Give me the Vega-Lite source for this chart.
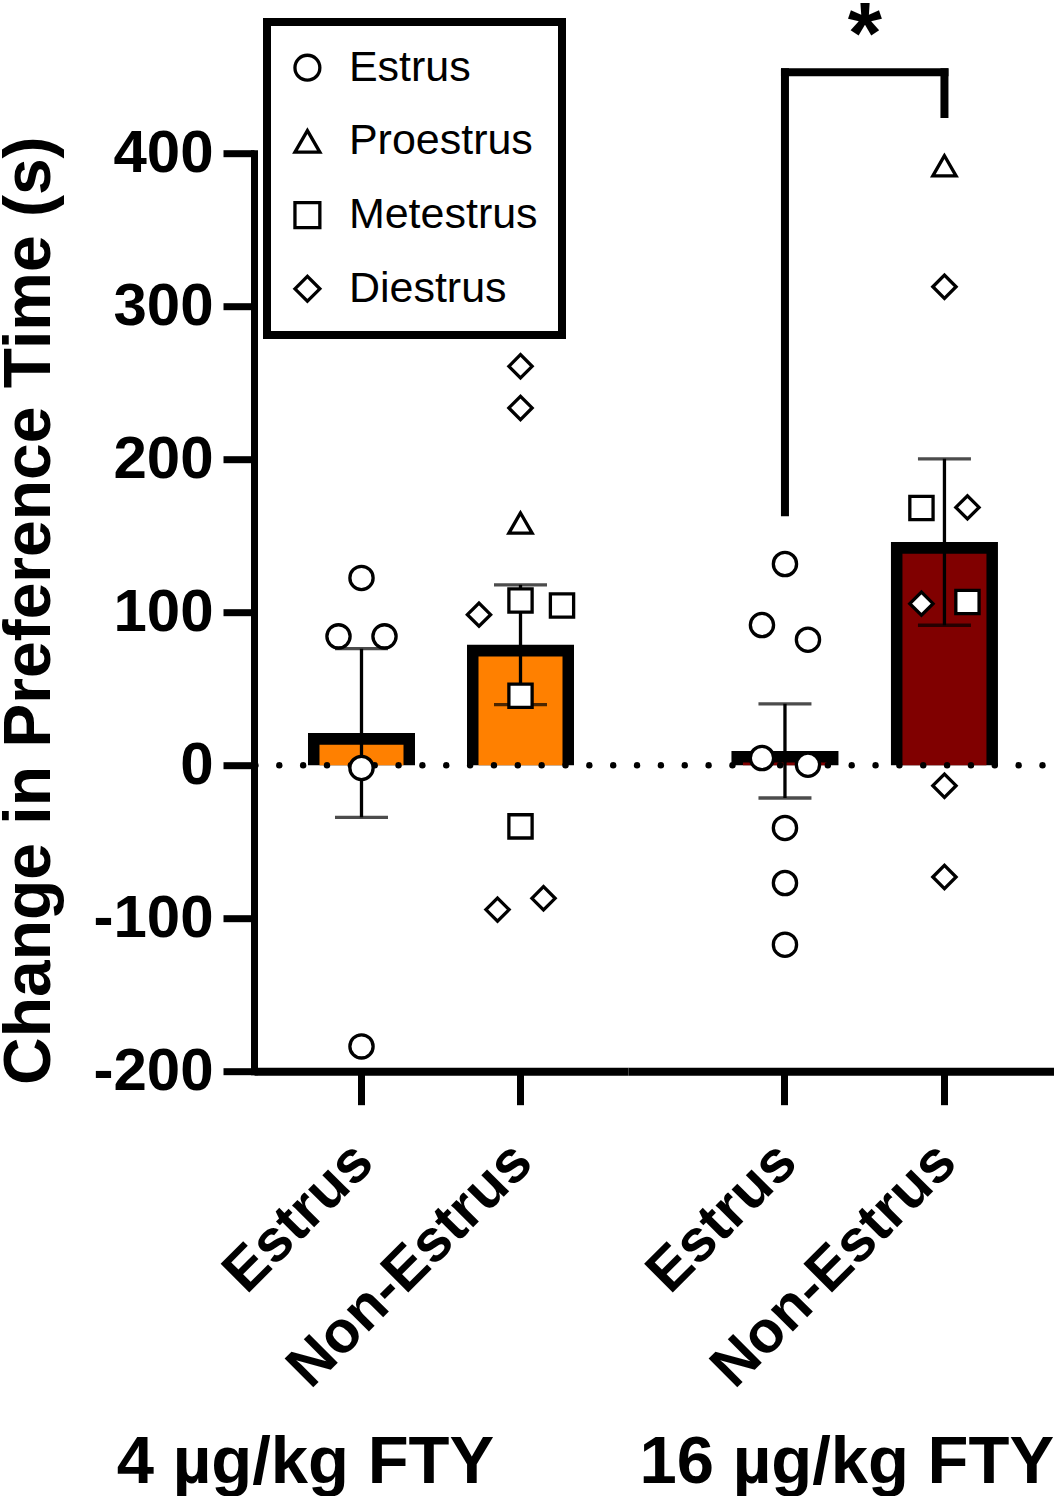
{
  "$schema": "https://vega.github.io/schema/vega-lite/v6.json",
  "background": "white",
  "padding": {"left": -4, "top": -6.8, "right": 0, "bottom": 0},
  "spacing": 0,
  "bounds": "flush",
  "datasets": {
    "fty4": [
      {"stage": "Estrus", "phase": "Estrus", "value": 122.4, "lane": "c"},
      {"stage": "Estrus", "phase": "Estrus", "value": 84.2, "lane": "l"},
      {"stage": "Estrus", "phase": "Estrus", "value": 84.2, "lane": "r"},
      {"stage": "Estrus", "phase": "Estrus", "value": -1.8, "lane": "c"},
      {"stage": "Estrus", "phase": "Estrus", "value": -183.8, "lane": "c"},
      {"stage": "Non-Estrus", "phase": "Diestrus", "value": 260.7, "lane": "c"},
      {"stage": "Non-Estrus", "phase": "Diestrus", "value": 233.5, "lane": "c"},
      {"stage": "Non-Estrus", "phase": "Proestrus", "value": 158.3, "lane": "c"},
      {"stage": "Non-Estrus", "phase": "Diestrus", "value": 98.4, "lane": "ll"},
      {"stage": "Non-Estrus", "phase": "Metestrus", "value": 107.7, "lane": "c"},
      {"stage": "Non-Estrus", "phase": "Metestrus", "value": 104.4, "lane": "rr"},
      {"stage": "Non-Estrus", "phase": "Metestrus", "value": 45.4, "lane": "c"},
      {"stage": "Non-Estrus", "phase": "Metestrus", "value": -40.0, "lane": "c"},
      {"stage": "Non-Estrus", "phase": "Diestrus", "value": -94.4, "lane": "l"},
      {"stage": "Non-Estrus", "phase": "Diestrus", "value": -87.0, "lane": "r"}
    ],
    "fty16": [
      {"stage": "Estrus", "phase": "Estrus", "value": 131.5, "lane": "c"},
      {"stage": "Estrus", "phase": "Estrus", "value": 91.6, "lane": "l"},
      {"stage": "Estrus", "phase": "Estrus", "value": 82.0, "lane": "r"},
      {"stage": "Estrus", "phase": "Estrus", "value": 4.7, "lane": "l"},
      {"stage": "Estrus", "phase": "Estrus", "value": 0.3, "lane": "r"},
      {"stage": "Estrus", "phase": "Estrus", "value": -41.0, "lane": "c"},
      {"stage": "Estrus", "phase": "Estrus", "value": -77.0, "lane": "c"},
      {"stage": "Estrus", "phase": "Estrus", "value": -117.3, "lane": "c"},
      {"stage": "Non-Estrus", "phase": "Proestrus", "value": 391.8, "lane": "c"},
      {"stage": "Non-Estrus", "phase": "Diestrus", "value": 312.7, "lane": "c"},
      {"stage": "Non-Estrus", "phase": "Metestrus", "value": 168.1, "lane": "l"},
      {"stage": "Non-Estrus", "phase": "Diestrus", "value": 168.5, "lane": "r"},
      {"stage": "Non-Estrus", "phase": "Diestrus", "value": 105.6, "lane": "l"},
      {"stage": "Non-Estrus", "phase": "Metestrus", "value": 106.7, "lane": "r"},
      {"stage": "Non-Estrus", "phase": "Diestrus", "value": -13.4, "lane": "c"},
      {"stage": "Non-Estrus", "phase": "Diestrus", "value": -73.1, "lane": "c"}
    ],
    "bracket": [
      {"from": "Estrus", "to": "Estrus", "lo": 165.4, "hi": 452.9},
      {"from": "Estrus", "to": "Non-Estrus", "lo": 452.9, "hi": 452.9},
      {"from": "Non-Estrus", "to": "Non-Estrus", "lo": 425.6, "hi": 452.9}
    ],
    "star": [
      {"stage": "Estrus", "label": "*", "pos": 458.8}
    ],
    "zero": [
      {"ref": 0}
    ]
  },
  "resolve": {
    "scale": {"x": "independent", "y": "independent", "shape": "independent"},
    "axis": {"x": "independent", "y": "independent"},
    "legend": {"shape": "independent"}
  },
  "hconcat": [
    {
      "width": 374,
      "height": 918,
      "data": {"name": "fty4"},
      "layer": [
        {
          "mark": {"type": "bar", "color": "black", "width": 107},
          "encoding": {
            "x": {"field": "stage", "type": "nominal", "title": "4 µg/kg FTY",
              "scale": {"domain": ["Estrus", "Non-Estrus"], "paddingInner": 0.3333, "paddingOuter": 0.3427, "align": 0.5},
              "axis": {"title": "4 µg/kg FTY", "titleX": 51, "titleY": 411.8, "titleBaseline": "alphabetic", "titleAlign": "center", "titleFontSize": 67, "titleAngle": 0,
                "labelAngle": -45, "labelAlign": "right", "labelBaseline": "middle", "labelPadding": 47.4, "labelOffset": 2, "labelFontSize": 59, "labelLimit": 1000,
                "tickSize": 33.5, "tickWidth": 7, "domainWidth": 8, "bandPosition": 0.5, "labelOverlap": false, "labelBound": false, "labelFlush": false}},
            "y": {"aggregate": "mean", "field": "value", "type": "quantitative", "title": "Change in Preference Time (s)",
              "scale": {"domain": [-200, 400], "nice": false, "zero": false},
              "axis": {"title": "Change in Preference Time (s)", "values": [-200, -100, 0, 100, 200, 300, 400], "labelExpr": "'' + datum.value",
                "tickSize": 31, "tickWidth": 7, "domainWidth": 7, "domainCap": "square", "labelFontSize": 60, "labelPadding": 10,
                "titleFontSize": 66, "titleX": -204.5, "titleY": 457, "titleAngle": 270, "titleBaseline": "alphabetic", "titleAlign": "center",
                "labelBound": false, "labelOverlap": false, "labelFlush": false}}
          }
        },
        {
          "mark": {"type": "bar", "color": "#FF8000", "width": 84, "yOffset": 11.7},
          "encoding": {
            "x": {"field": "stage", "type": "nominal", "title": "4 µg/kg FTY"},
            "y": {"aggregate": "mean", "field": "value", "type": "quantitative", "title": "Change in Preference Time (s)"}
          }
        },
        {
          "data": {"name": "zero"},
          "mark": {"type": "rule", "color": "black", "strokeWidth": 6.5, "strokeDash": [0, 23.85], "strokeCap": "round", "strokeDashOffset": 9.05},
          "encoding": {"y": {"field": "ref", "type": "quantitative", "title": "Change in Preference Time (s)"}}
        },
        {
          "mark": {"type": "errorbar", "extent": "stderr", "color": "black", "ticks": {"size": 53, "thickness": 3.3, "color": "black"}, "rule": {"strokeWidth": 3.3, "color": "black"}},
          "encoding": {
            "x": {"field": "stage", "type": "nominal", "title": "4 µg/kg FTY"},
            "y": {"field": "value", "type": "quantitative", "title": "Change in Preference Time (s)"}
          }
        },
        {
          "transform": [{"filter": "datum.lane == 'c'"}],
          "mark": {"type": "point", "filled": true, "fill": "white", "stroke": "black", "strokeWidth": 3.3, "size": 540, "opacity": 1},
          "encoding": {
            "x": {"field": "stage", "type": "nominal", "title": "4 µg/kg FTY"},
            "y": {"field": "value", "type": "quantitative", "title": "Change in Preference Time (s)"},
            "shape": {"field": "phase", "type": "nominal",
              "scale": {"domain": ["Estrus", "Proestrus", "Metestrus", "Diestrus"], "range": ["circle", "triangle-up", "square", "diamond"]},
              "legend": {"orient": "none", "legendX": 13, "legendY": -131.2, "title": null, "padding": 24.2,
                "strokeColor": "black",
                "labelFontSize": 43, "labelFont": "Liberation Sans", "labelFontWeight": "normal", "labelColor": "black", "labelLimit": 400,
                "symbolSize": 620, "symbolStrokeWidth": 3.3,
                "symbolOffset": -5.3, "labelOffset": 20, "rowPadding": 29.7}}
          }
        },
        {
          "transform": [{"filter": "datum.lane == 'l'"}],
          "mark": {"type": "point", "filled": true, "fill": "white", "stroke": "black", "strokeWidth": 3.3, "size": 540, "opacity": 1, "xOffset": -23},
          "encoding": {
            "x": {"field": "stage", "type": "nominal", "title": "4 µg/kg FTY"},
            "y": {"field": "value", "type": "quantitative", "title": "Change in Preference Time (s)"},
            "shape": {"field": "phase", "type": "nominal"}
          }
        },
        {
          "transform": [{"filter": "datum.lane == 'r'"}],
          "mark": {"type": "point", "filled": true, "fill": "white", "stroke": "black", "strokeWidth": 3.3, "size": 540, "opacity": 1, "xOffset": 23},
          "encoding": {
            "x": {"field": "stage", "type": "nominal", "title": "4 µg/kg FTY"},
            "y": {"field": "value", "type": "quantitative", "title": "Change in Preference Time (s)"},
            "shape": {"field": "phase", "type": "nominal"}
          }
        },
        {
          "transform": [{"filter": "datum.lane == 'll'"}],
          "mark": {"type": "point", "filled": true, "fill": "white", "stroke": "black", "strokeWidth": 3.3, "size": 540, "opacity": 1, "xOffset": -41.5},
          "encoding": {
            "x": {"field": "stage", "type": "nominal", "title": "4 µg/kg FTY"},
            "y": {"field": "value", "type": "quantitative", "title": "Change in Preference Time (s)"},
            "shape": {"field": "phase", "type": "nominal"}
          }
        },
        {
          "transform": [{"filter": "datum.lane == 'rr'"}],
          "mark": {"type": "point", "filled": true, "fill": "white", "stroke": "black", "strokeWidth": 3.3, "size": 540, "opacity": 1, "xOffset": 41.5},
          "encoding": {
            "x": {"field": "stage", "type": "nominal", "title": "4 µg/kg FTY"},
            "y": {"field": "value", "type": "quantitative", "title": "Change in Preference Time (s)"},
            "shape": {"field": "phase", "type": "nominal"}
          }
        }
      ]
    },
    {
      "width": 427,
      "height": 918,
      "data": {"name": "fty16"},
      "layer": [
        {
          "mark": {"type": "bar", "color": "black", "width": 107},
          "encoding": {
            "x": {"field": "stage", "type": "nominal", "title": "16 µg/kg FTY",
              "scale": {"domain": ["Estrus", "Non-Estrus"], "paddingInner": 0.3333, "paddingOuter": 0.5053, "align": 0.644},
              "axis": {"title": "16 µg/kg FTY", "titleX": 218.3, "titleY": 411.8, "titleBaseline": "alphabetic", "titleAlign": "center", "titleFontSize": 67, "titleAngle": 0,
                "labelAngle": -45, "labelAlign": "right", "labelBaseline": "middle", "labelPadding": 47.4, "labelOffset": 2, "labelFontSize": 59, "labelLimit": 1000,
                "tickSize": 33.5, "tickWidth": 7, "domainWidth": 8, "bandPosition": 0.5, "labelOverlap": false, "labelBound": false, "labelFlush": false}},
            "y": {"aggregate": "mean", "field": "value", "type": "quantitative",
              "scale": {"domain": [-200, 400], "nice": false, "zero": false}, "axis": null}
          }
        },
        {
          "mark": {"type": "bar", "color": "#800000", "width": 84, "yOffset": 11.7},
          "encoding": {
            "x": {"field": "stage", "type": "nominal", "title": "16 µg/kg FTY"},
            "y": {"aggregate": "mean", "field": "value", "type": "quantitative", "axis": null}
          }
        },
        {
          "data": {"name": "zero"},
          "mark": {"type": "rule", "color": "black", "strokeWidth": 6.5, "strokeDash": [0, 23.85], "strokeCap": "round", "strokeDashOffset": 11.35},
          "encoding": {"y": {"field": "ref", "type": "quantitative", "axis": null}}
        },
        {
          "mark": {"type": "errorbar", "extent": "stderr", "color": "black", "ticks": {"size": 53, "thickness": 3.3, "color": "black"}, "rule": {"strokeWidth": 3.3, "color": "black"}},
          "encoding": {
            "x": {"field": "stage", "type": "nominal", "title": "16 µg/kg FTY"},
            "y": {"field": "value", "type": "quantitative", "axis": null}
          }
        },
        {
          "transform": [{"filter": "datum.lane == 'c'"}],
          "mark": {"type": "point", "filled": true, "fill": "white", "stroke": "black", "strokeWidth": 3.3, "size": 540, "opacity": 1},
          "encoding": {
            "x": {"field": "stage", "type": "nominal", "title": "16 µg/kg FTY"},
            "y": {"field": "value", "type": "quantitative", "axis": null},
            "shape": {"field": "phase", "type": "nominal",
              "scale": {"domain": ["Estrus", "Proestrus", "Metestrus", "Diestrus"], "range": ["circle", "triangle-up", "square", "diamond"]},
              "legend": null}
          }
        },
        {
          "transform": [{"filter": "datum.lane == 'l'"}],
          "mark": {"type": "point", "filled": true, "fill": "white", "stroke": "black", "strokeWidth": 3.3, "size": 540, "opacity": 1, "xOffset": -23},
          "encoding": {
            "x": {"field": "stage", "type": "nominal", "title": "16 µg/kg FTY"},
            "y": {"field": "value", "type": "quantitative", "axis": null},
            "shape": {"field": "phase", "type": "nominal", "legend": null}
          }
        },
        {
          "transform": [{"filter": "datum.lane == 'r'"}],
          "mark": {"type": "point", "filled": true, "fill": "white", "stroke": "black", "strokeWidth": 3.3, "size": 540, "opacity": 1, "xOffset": 23},
          "encoding": {
            "x": {"field": "stage", "type": "nominal", "title": "16 µg/kg FTY"},
            "y": {"field": "value", "type": "quantitative", "axis": null},
            "shape": {"field": "phase", "type": "nominal", "legend": null}
          }
        },
        {
          "data": {"name": "bracket"},
          "mark": {"type": "rule", "color": "black", "strokeWidth": 8, "strokeCap": "square"},
          "encoding": {
            "x": {"field": "from", "type": "nominal", "title": "16 µg/kg FTY"},
            "x2": {"field": "to"},
            "y": {"field": "lo", "type": "quantitative", "axis": null},
            "y2": {"field": "hi"}
          }
        },
        {
          "data": {"name": "star"},
          "mark": {"type": "text", "font": "Liberation Sans", "fontSize": 88, "fontWeight": "bold", "dx": 80, "baseline": "alphabetic", "align": "center", "color": "black"},
          "encoding": {
            "x": {"field": "stage", "type": "nominal", "title": "16 µg/kg FTY"},
            "y": {"field": "pos", "type": "quantitative", "axis": null},
            "text": {"field": "label"}
          }
        }
      ]
    }
  ],
  "config": {
    "view": {"stroke": null},
    "font": "Liberation Sans",
    "legend": {"strokeWidth": 8, "symbolStrokeWidth": 3.3},
    "axis": {
      "domainColor": "black", "tickColor": "black", "labelColor": "black", "titleColor": "black",
      "grid": false, "labelFont": "Liberation Sans", "titleFont": "Liberation Sans",
      "labelFontWeight": "bold", "titleFontWeight": "bold"
    }
  }
}
